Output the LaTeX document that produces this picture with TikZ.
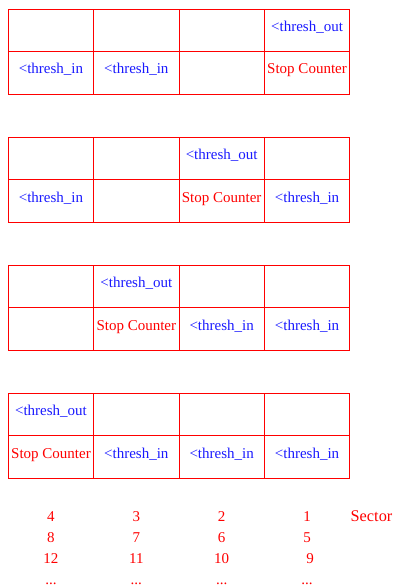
\documentclass[tikz,border=0pt]{standalone}
\usepackage{fontspec}
\setmainfont{Liberation Serif}
\usetikzlibrary{positioning}
\definecolor{tred}{HTML}{FF0000}
\definecolor{tblue}{HTML}{1A1AFF}
\newcommand{\secdots}{...}
\tikzset{
  tgrid/.style={draw=tred, line width=0.9pt},
  ttxt/.style={anchor=base, inner sep=0pt, font=\fontsize{15}{18}\selectfont},
  tout/.style={ttxt, text=tblue},
  tin/.style={ttxt, text=tblue},
  tstop/.style={ttxt, text=tred},
  tsec/.style={ttxt, text=tred},
}

\begin{document}
\begin{tikzpicture}[x=1pt, y=-1pt]

  \useasboundingbox (0,0) rectangle (394,586);

  % tabelas (4 colunas x 2 linhas)
  \foreach \k in {1,...,4} {
    \pgfmathsetmacro{\ytop}{9.2+128*(\k-1)}
    \draw[tgrid] (8.3,\ytop) rectangle (349.7,\ytop+85.3);
    \draw[tgrid] (8.3,\ytop+42.6) -- (349.7,\ytop+42.6);
    \foreach \c in {1,2,3}
      \draw[tgrid] ({8.3+85.35*\c},\ytop) -- ({8.3+85.35*\c},\ytop+85.3);
  }

  % limiar de saida e parada
  \foreach \k/\c in {1/4, 2/3, 3/2, 4/1} {
    \node[tout]  (out\k)  at ({8.3+85.35*(\c-0.5)}, {9.2+128*(\k-1)+22}) {<thresh\_out};
    \node[tstop] (stop\k) at ({8.3+85.35*(\c-0.5)}, {9.2+128*(\k-1)+64.8}) {Stop Counter};
  }

  % limiar de entrada
  \foreach \k/\c/\n in {1/1/a, 1/2/b, 2/1/a, 2/4/b, 3/3/a, 3/4/b, 4/2/a, 4/3/b, 4/4/c}
    \node[tin] (in\k\n) at ({8.3+85.35*(\c-0.5)}, {9.2+128*(\k-1)+64.8}) {<thresh\_in};

  % setores
  \foreach \r/\vals in {1/{4,3,2,1}, 2/{8,7,6,5}, 3/{12,11,10,\hspace{6pt}9},
                        4/{\secdots,\secdots,\secdots,\secdots}}
    \foreach \v [count=\c] in \vals
      \node[tsec] (s\r\c) at ({8.3+85.35*(\c-0.5)}, {521+21.3*(\r-1)}) {\v};
  \node[tsec, font=\fontsize{16.3}{19}\selectfont] (sector) at (371.5,521) {Sector};

\end{tikzpicture}
\end{document}
